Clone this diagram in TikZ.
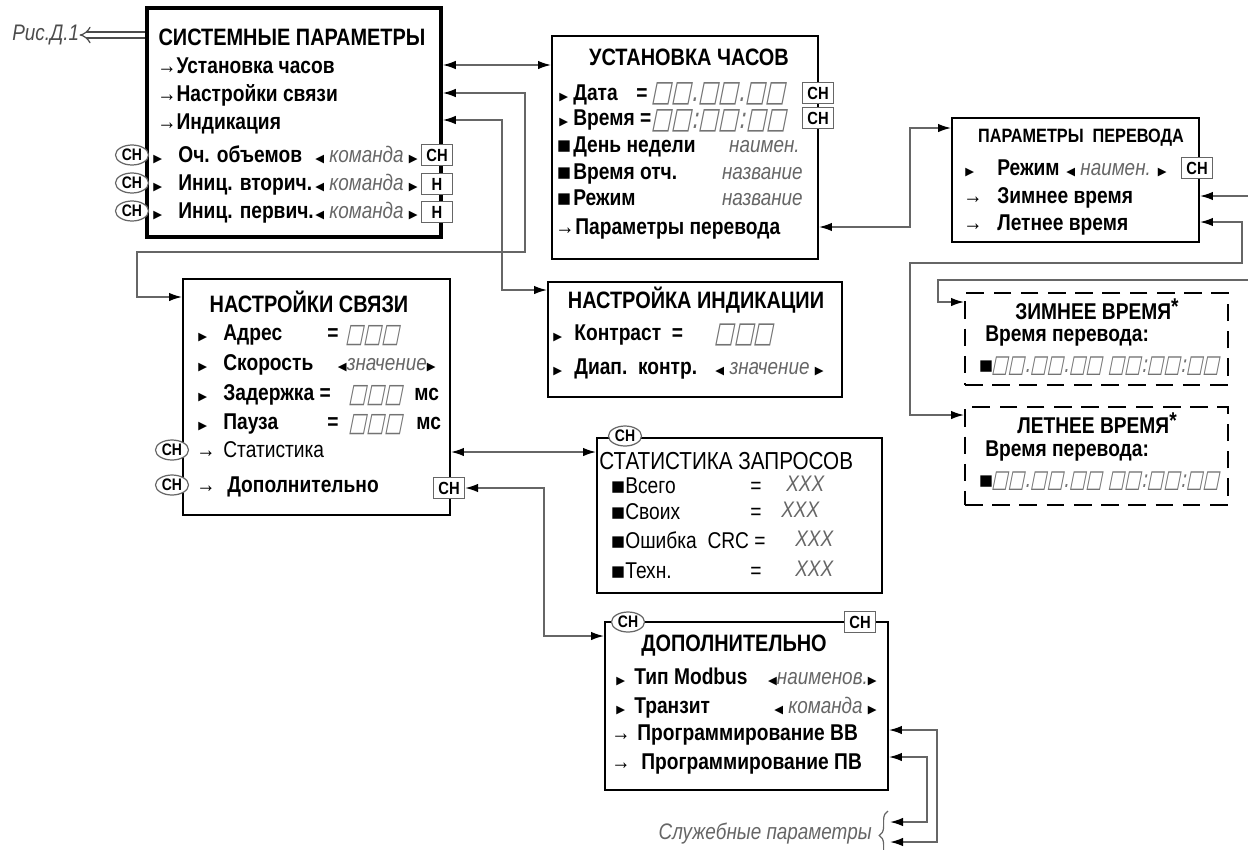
\documentclass[tikz,border=0pt]{standalone}
\usepackage{fontspec}
\setmainfont{Liberation Sans}[FakeStretch=0.84]
\newfontfamily\symf{DejaVu Sans}
\newfontfamily\segf{DejaVu Sans}[FakeSlant=0.2, FakeStretch=0.72]
\usetikzlibrary{arrows.meta, shapes.geometric, fit, decorations.pathreplacing}

\newcommand\trR{{\symf\upshape\color{black}\fontsize{6.5}{6.5}\selectfont ▶}}
\newcommand\trL{{\symf\upshape\color{black}\fontsize{6.5}{6.5}\selectfont ◀}}
\newcommand\blk{{\symf ▪}}
\newcommand\lead[2]{\makebox[#1][l]{#2}}
\newcommand\seg[2][17.7]{{\segf\mdseries\fontsize{#1}{#1}\selectfont\color{black!55}#2}}

\begin{document}
\begin{tikzpicture}[x=0.02cm, y=-0.02cm, >={Latex[length=2.6mm, width=1.7mm, color=black]},
    box/.style={draw, line width=1.1pt, inner sep=0pt},
    dbox/.style={box, dash pattern=on 10pt off 5.5pt},
    head/.style={inner sep=0pt, font=\bfseries\fontsize{13.5}{15}\selectfont},
    txt/.style={anchor=base west, inner sep=0pt, yshift=-0.03cm, font=\bfseries\fontsize{13}{15}\selectfont},
    val/.style={anchor=base west, inner sep=0pt, yshift=-0.03cm, font=\itshape\fontsize{12.8}{15}\selectfont, text=black!60},
    cbox/.style={draw=black!60, line width=0.7pt, fill=white, inner sep=0pt, minimum width=0.62cm, minimum height=0.42cm, font=\bfseries\fontsize{10}{10}\selectfont},
    chov/.style={ellipse, draw=black!60, line width=0.7pt, fill=white, inner sep=0pt, minimum width=0.66cm, minimum height=0.4cm, font=\bfseries\fontsize{9.5}{10}\selectfont},
    wire/.style={draw=black!60, line width=0.9pt}]
    \useasboundingbox (0,0) rectangle (1248,849);

    % Системные параметры
    \node[box, line width=2pt, fit={(147,8) (441,237)}] (sys) {};
    \node[head] (sysT) at (292,37) {СИСТЕМНЫЕ ПАРАМЕТРЫ};
    \node[txt] (sysA) at (157,72) {→Установка часов};
    \node[txt] (sysB) at (157,100) {→Настройки связи};
    \node[txt] (sysC) at (157,128) {→Индикация};
    \node[txt] (sysD) at (153,161) {\lead{0.5cm}{\trR}Оч. объемов};
    \node[val, anchor=base east] (sysDv) at (418,161) {\trL\ команда \trR};
    \node[txt] (sysE) at (153,189) {\lead{0.5cm}{\trR}Иниц. вторич.};
    \node[val, anchor=base east] (sysEv) at (418,189) {\trL\ команда \trR};
    \node[txt] (sysF) at (153,217) {\lead{0.5cm}{\trR}Иниц. первич.};
    \node[val, anchor=base east] (sysFv) at (418,217) {\trL\ команда \trR};
    \node[chov] (sysDo) at (132,155) {СН};
    \node[chov] (sysEo) at (132,183) {СН};
    \node[chov] (sysFo) at (132,211) {СН};
    \node[cbox] (sysDk) at (437,155) {СН};
    \node[cbox] (sysEk) at (437,184) {Н};
    \node[cbox] (sysFk) at (437,212) {Н};
    \node[val, text=black!70] (fig) at (12,39) {Рис.Д.1};
    \draw[double distance=2.6pt, line width=0.7pt, black!70, {Implies}-] (fig.east) -- (sys.west |- fig.east);

    % Установка часов
    \node[box, fit={(552,36) (818,259)}] (clock) {};
    \node[head] (clockT) at (689,57) {УСТАНОВКА ЧАСОВ};
    \node[txt] (clockA) at (559,99) {\lead{0.28cm}{\trR}Дата};
    \node[txt] (clockAe) at (636,99) {=};
    \node[txt] (clockAv) at (651,100) {\seg[16.8]{□□.□□.□□}};
    \node[txt] (clockB) at (559,124) {\lead{0.28cm}{\trR}Время =};
    \node[txt] (clockBv) at (651,127) {\seg[16.8]{□□:□□:□□}};
    \node[txt] (clockC) at (556,151) {\lead{0.34cm}{\blk}День недели};
    \node[val, anchor=base east] (clockCv) at (800,151) {наимен.};
    \node[txt] (clockD) at (556,178) {\lead{0.34cm}{\blk}Время отч.};
    \node[val, anchor=base east] (clockDv) at (803,178) {название};
    \node[txt] (clockE) at (556,204) {\lead{0.34cm}{\blk}Режим};
    \node[val, anchor=base east] (clockEv) at (803,204) {название};
    \node[txt] (clockF) at (555,233) {\lead{0.4cm}{→}Параметры перевода};
    \node[cbox] (clockAk) at (818,93) {СН};
    \node[cbox] (clockBk) at (818,118) {СН};

    % Параметры перевода
    \node[box, fit={(952,118) (1199,242)}] (trans) {};
    \node[head, font=\bfseries\fontsize{11}{12}\selectfont] (transT) at (1081,138) {ПАРАМЕТРЫ\ \ ПЕРЕВОДА};
    \node[txt] (transA) at (965,174) {\lead{0.64cm}{\trR}Режим};
    \node[val] (transAv) at (1066,174) {\trL\ наимен. \trR};
    \node[txt] (transB) at (963,202) {\lead{0.68cm}{\mdseries→}Зимнее время};
    \node[txt] (transC) at (963,229) {\lead{0.68cm}{\mdseries→}Летнее время};
    \node[cbox] (transAk) at (1197,168) {СН};

    % Зимнее и летнее время
    \node[dbox, fit={(965,293) (1228,385)}] (winter) {};
    \node[head, font=\bfseries\fontsize{13}{15}\selectfont] (winterT) at (1097,309) {ЗИМНЕЕ ВРЕМЯ\raisebox{0.2em}{\fontsize{13}{13}\selectfont *}};
    \node[txt] (winterA) at (985,340) {Время перевода:};
    \node[txt] (winterB) at (978,371) {\lead{0.26cm}{\blk}\seg[13.9]{□□.□□.□□ □□:□□:□□}};
    \node[dbox, fit={(965,407) (1228,505)}] (summer) {};
    \node[head, font=\bfseries\fontsize{13}{15}\selectfont] (summerT) at (1097,423) {ЛЕТНЕЕ ВРЕМЯ\raisebox{0.2em}{\fontsize{13}{13}\selectfont *}};
    \node[txt] (summerA) at (985,455) {Время перевода:};
    \node[txt] (summerB) at (978,486) {\lead{0.26cm}{\blk}\seg[13.9]{□□.□□.□□ □□:□□:□□}};

    % Настройки связи
    \node[box, fit={(183,279) (450,515)}] (link) {};
    \node[head] (linkT) at (309,302) {НАСТРОЙКИ СВЯЗИ};
    \node[txt] (linkA) at (198,339) {\lead{0.5cm}{\trR}Адрес};
    \node[txt] (linkAe) at (327,339) {=};
    \node[txt] (linkAv) at (345,341) {\seg[15.1]{□□□}};
    \node[txt] (linkB) at (198,369) {\lead{0.5cm}{\trR}Скорость};
    \node[val, anchor=base east] (linkBv) at (436,369) {\trL значение\trR};
    \node[txt] (linkC) at (198,399) {\lead{0.5cm}{\trR}Задержка =};
    \node[txt] (linkCv) at (348,401) {\seg[15.1]{□□□}};
    \node[txt] (linkCm) at (414,399) {мс};
    \node[txt] (linkD) at (198,428) {\lead{0.5cm}{\trR}Пауза};
    \node[txt] (linkDe) at (327,428) {=};
    \node[txt] (linkDv) at (348,430) {\seg[15.1]{□□□}};
    \node[txt] (linkDm) at (416,428) {мс};
    \node[txt, font=\fontsize{13}{15}\selectfont] (linkE) at (196,456) {\lead{0.54cm}{→}Статистика};
    \node[txt] (linkF) at (196,491) {\lead{0.62cm}{\mdseries→}Дополнительно};
    \node[chov] (linkEo) at (172,450) {СН};
    \node[chov] (linkFo) at (172,485) {СН};
    \node[cbox] (linkK) at (449,488) {СН};

    % Настройка индикации
    \node[box, fit={(548,282) (842,397)}] (indic) {};
    \node[head] (indicT) at (696,300) {НАСТРОЙКА ИНДИКАЦИИ};
    \node[txt] (indicA) at (553,339) {\lead{0.42cm}{\trR}Контраст\ \ =};
    \node[txt] (indicAv) at (714,341) {\seg[16.5]{□□□}};
    \node[txt] (indicB) at (553,373) {\lead{0.42cm}{\trR}Диап.\ \ контр.};
    \node[val, anchor=base east] (indicBv) at (824,373) {\trL\ значение \trR};

    % Статистика запросов
    \node[box, fit={(597,438) (882,593)}] (stat) {};
    \node[head, anchor=west, font=\fontsize{14}{15}\selectfont] (statT) at (599,461) {СТАТИСТИКА ЗАПРОСОВ};
    \node[txt, font=\fontsize{13}{15}\selectfont] (statA) at (610,492) {\lead{0.3cm}{\blk}Всего};
    \node[txt, font=\fontsize{13}{15}\selectfont] (statB) at (610,518) {\lead{0.3cm}{\blk}Своих};
    \node[txt, font=\fontsize{13}{15}\selectfont] (statC) at (610,547) {\lead{0.3cm}{\blk}Ошибка\ \ CRC =};
    \node[txt, font=\fontsize{13}{15}\selectfont] (statD) at (610,577) {\lead{0.3cm}{\blk}Техн.};
    \node[txt, font=\fontsize{13}{15}\selectfont] (statAe) at (750,492) {=};
    \node[txt, font=\fontsize{13}{15}\selectfont] (statBe) at (750,518) {=};
    \node[txt, font=\fontsize{13}{15}\selectfont] (statDe) at (750,577) {=};
    \node[val] (statAv) at (786,490) {XXX};
    \node[val] (statBv) at (781,516) {XXX};
    \node[val] (statCv) at (795,545) {XXX};
    \node[val] (statDv) at (795,575) {XXX};
    \node[chov] (statO) at (625,436) {СН};

    % Дополнительно
    \node[box, fit={(605,622) (888,790)}] (extra) {};
    \node[head] (extraT) at (734,646) {ДОПОЛНИТЕЛЬНО};
    \node[txt] (extraA) at (616,683) {\lead{0.36cm}{\trR}Тип Modbus};
    \node[val, anchor=base east] (extraAv) at (877,683) {\trL наименов.\trR};
    \node[txt] (extraB) at (616,712) {\lead{0.36cm}{\trR}Транзит};
    \node[val, anchor=base east] (extraBv) at (877,712) {\trL\ команда \trR};
    \node[txt] (extraC) at (611,739) {\lead{0.52cm}{\mdseries→}Программирование ВВ};
    \node[txt] (extraD) at (611,768) {\lead{0.6cm}{\mdseries→}Программирование ПВ};
    \node[chov] (extraO) at (628,622) {СН};
    \node[cbox] (extraK) at (860,622) {СН};
    \node[val, anchor=base east] (svc) at (872,838) {Служебные параметры};
    \draw[black!60, line width=0.7pt, decorate, decoration={brace, amplitude=5pt}] (888,860) -- (888,811);

    % связи между окнами
    \draw[wire, <->] (sys.east |- 0,65) -- (clock.west |- 0,65);
    \draw[wire, <->] (sys.east |- 0,93) -- (525,93) -- (525,252) -- (137,252) -- (137,297) -- (link.west |- 0,297);
    \draw[wire, <->] (sys.east |- 0,120) -- (502,120) -- (502,290) -- (indic.west |- 0,290);
    \draw[wire, <->] (clock.east |- 0,227) -- (910,227) -- (910,128) -- (trans.west |- 0,128);
    \coordinate (outA) at (1248,196);
    \draw[wire, <-] (trans.east |- outA) -- (outA);
    \draw[wire, <->] (trans.east |- 0,222) -- (1242,222) -- (1242,263) -- (910,263) -- (910,415) -- (summer.west |- 0,415);
    \coordinate (outB) at (1248,280);
    \draw[wire, ->] (outB) -- (938,280) -- (938,302) -- (winter.west |- 0,302);
    \draw[wire, <->] (link.east |- 0,452) -- (stat.west |- 0,452);
    \draw[wire, <->] (linkK.east) -- (544,488) -- (544,636) -- (extra.west |- 0,636);
    \coordinate (svcA) at (890,822);
    \coordinate (svcB) at (890,842);
    \draw[wire, <->] (extra.east |- 0,730) -- (937,730) -- (937,842) -- (svcB);
    \draw[wire, <->] (extra.east |- 0,757) -- (927,757) -- (927,822) -- (svcA);
\end{tikzpicture}
\end{document}
